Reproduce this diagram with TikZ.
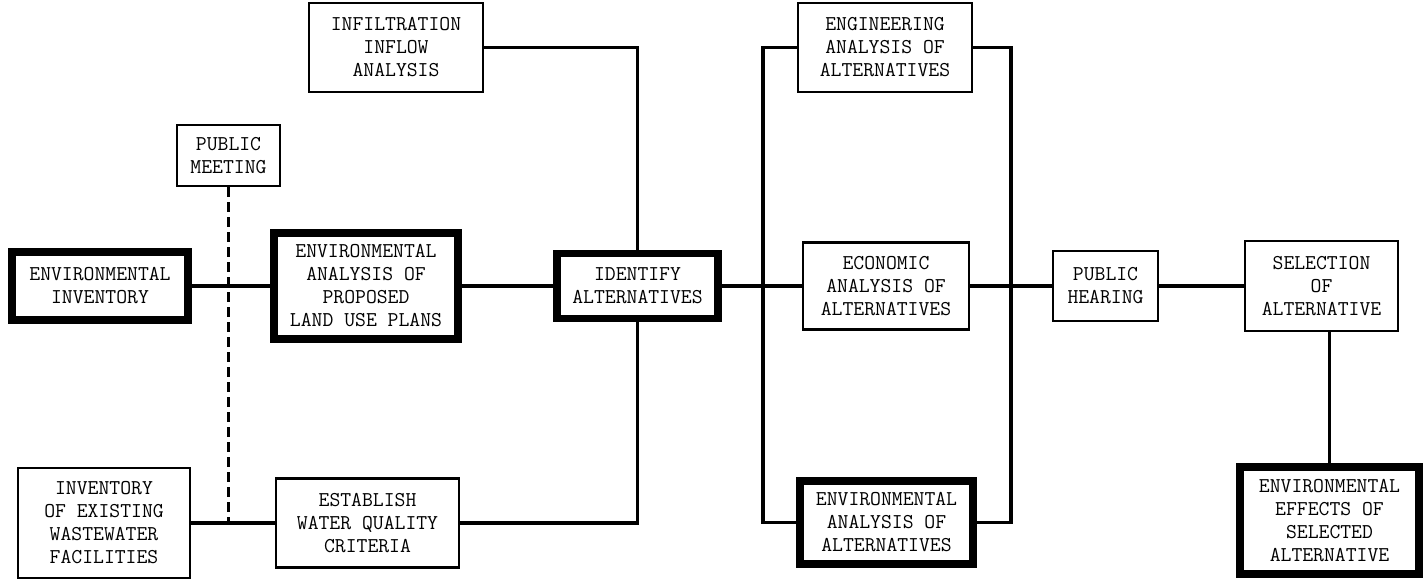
\documentclass[tikz,border=0pt]{standalone}
\usepackage{tikz}
\tikzset{
	block/.style={
		draw,
		line width = 1.4pt,
		align = center,
		inner sep = 0pt,
		font = \ttfamily\fontsize{12}{13.1}\selectfont
	},
	heavy/.style={
		block,
		line width = 4.5pt
	},
	link/.style={
		line width = 2.1pt
	},
}

\begin{document}
\begin{tikzpicture}[x=0.02cm, y=-0.02cm]
	\useasboundingbox (0,0) rectangle (1424,580);
	% left column
	\node[heavy, minimum width=3.52cm, minimum height=1.36cm] (envinv) at (100,286) {ENVIRONMENTAL\\INVENTORY};
	\node[block, minimum width=3.44cm, minimum height=2.20cm] (invexist) at (104,523) {INVENTORY\\OF EXISTING\\WASTEWATER\\FACILITIES};
	\node[block, minimum width=2.06cm, minimum height=1.22cm] (pubmeet) at (228.5,155.5) {PUBLIC\\MEETING};
	\node[heavy, minimum width=3.68cm, minimum height=2.12cm] (envprop) at (366,286) {ENVIRONMENTAL\\ANALYSIS OF\\PROPOSED\\LAND USE PLANS};
	\node[block, minimum width=3.66cm, minimum height=1.78cm] (establish) at (367.5,523) {ESTABLISH\\WATER QUALITY\\CRITERIA};
	\node[block, minimum width=3.48cm, minimum height=1.78cm] (infil) at (396,47.5) {INFILTRATION\\INFLOW\\ANALYSIS};
	\node[heavy, minimum width=3.22cm, minimum height=1.30cm] (ident) at (637.5,286) {IDENTIFY\\ALTERNATIVES};
	% alternatives
	\node[block, minimum width=3.48cm, minimum height=1.78cm] (engin) at (885,47.5) {ENGINEERING\\ANALYSIS OF\\ALTERNATIVES};
	\node[block, minimum width=3.32cm, minimum height=1.74cm] (econ) at (886,286) {ECONOMIC\\ANALYSIS OF\\ALTERNATIVES};
	\node[heavy, minimum width=3.46cm, minimum height=1.66cm] (envalt) at (886.5,522.5) {ENVIRONMENTAL\\ANALYSIS OF\\ALTERNATIVES};
	\coordinate (lbus) at (763,286);
	\coordinate (rbus) at (1011,286);
	% right column
	\node[block, minimum width=2.10cm, minimum height=1.40cm] (pubhear) at (1105.5,286) {PUBLIC\\HEARING};
	\node[block, minimum width=3.06cm, minimum height=1.80cm] (select) at (1321.5,286) {SELECTION\\OF\\ALTERNATIVE};
	\node[heavy, minimum width=3.58cm, minimum height=2.14cm] (enveff) at (1329.5,520.5) {ENVIRONMENTAL\\EFFECTS OF\\SELECTED\\ALTERNATIVE};

	\draw[link] (envinv) -- (envprop);
	\draw[link] (invexist) -- (establish);
	\draw[link, dash pattern=on 0.2cm off 0.1cm] (pubmeet.south) -- (pubmeet.south |- invexist.east);
	\draw[link] (envprop) -- (ident);
	\draw[link] (infil.east) -| (ident.north);
	\draw[link] (establish.east) -| (ident.south);
	\draw[link] (ident) -- (econ);
	\draw[link] (engin.west) -| (lbus) |- (envalt.west);
	\draw[link] (engin.east) -| (rbus) |- (envalt.east);
	\draw[link] (econ) -- (pubhear);
	\draw[link] (pubhear) -- (select);
	\draw[link] (select.south -| enveff.north) -- (enveff.north);
\end{tikzpicture}
\end{document}
